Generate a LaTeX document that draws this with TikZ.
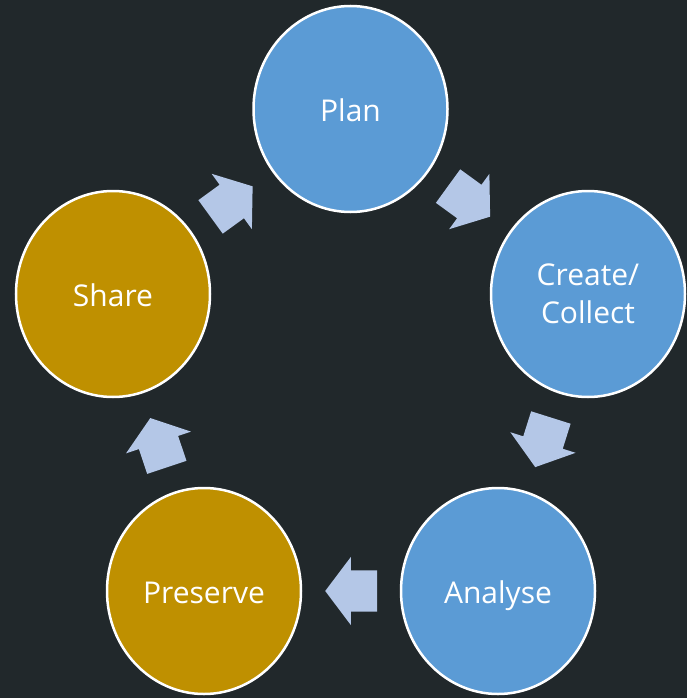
\documentclass[tikz,border=0pt]{standalone}
\usepackage{fontspec}
\setmainfont{Open Sans}
\usepackage{xcolor}
\usepackage{tikz}
\usetikzlibrary{shapes.geometric, shapes.arrows, calc}
\definecolor{bgdark}{HTML}{21282B}
\definecolor{stageblue}{HTML}{5B9BD5}
\definecolor{stagegold}{HTML}{BF9000}
\definecolor{flowblue}{HTML}{B4C7E7}
\tikzstyle{stage} = [ellipse, 
minimum width=194pt, 
minimum height=206pt,
text centered, 
align=center,
text height=24.5pt,
text depth=0pt,
draw=white, 
line width=2.5pt,
text=white,
font=\fontsize{30}{38}\selectfont,
fill=stageblue]
\tikzstyle{keep} = [stage, fill=stagegold]
\tikzstyle{flow} = [single arrow, 
minimum height=52pt, 
inner xsep=0pt, 
inner ysep=20.5pt,
single arrow head extend=13.5pt,
single arrow tip angle=106,
fill=flowblue]

\begin{document}
\begin{tikzpicture}[x=1pt, y=-1pt]

\fill [bgdark] (0,0) rectangle (687,698);
\useasboundingbox (0,0) rectangle (687,698);

\node (plan) [stage] at (350.5,109) {Plan};
\node (create) [stage, text height=, text depth=] at (588,294) {Create/\\Collect};
\node (analyse) [stage] at (498,591) {Analyse};
\node (preserve) [keep] at (204,591) {Preserve};
\node (share) [keep] at (113,294) {Share};

% arrows sit halfway between the stages
\node (planflow) [flow, rotate=-36, xshift=-8pt] at ($(plan)!0.5!(create)$) {};
\node (createflow) [flow, rotate=-107.5, xshift=-8pt] at ($(create)!0.5!(analyse)$) {};
\node (analyseflow) [flow, rotate=180, xshift=-8pt] at ($(analyse)!0.5!(preserve)$) {};
\node (preserveflow) [flow, rotate=108.5, xshift=-8pt] at ($(preserve)!0.5!(share)$) {};
\node (shareflow) [flow, rotate=36, xshift=-8pt] at ($(share)!0.5!(plan)$) {};

\end{tikzpicture}
\end{document}
